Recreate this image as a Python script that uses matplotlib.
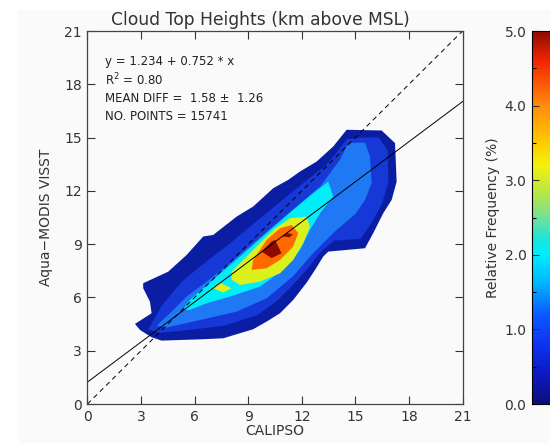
import matplotlib
matplotlib.use("Agg")
import matplotlib.pyplot as plt
import numpy as np
from matplotlib.colors import LinearSegmentedColormap, Normalize
from matplotlib.patches import Rectangle
import matplotlib.colorbar as mcolorbar

# fit statistics printed on the chart
intercept = 1.234
slope = 0.752
r2 = 0.80
mean_diff = 1.58
diff_sd = 1.26
n_points = 15741

ticks = [0, 3, 6, 9, 12, 15, 18, 21]
cbar_ticks = [0.0, 1.0, 2.0, 3.0, 4.0, 5.0]

# contour outlines (CALIPSO km, VISST km), outermost first
lvl1 = [(2.66, 4.51), (2.94, 4.17), (3.59, 3.76), (4.15, 3.57), (6.30, 3.64), (7.60, 3.70),
        (9.28, 4.21), (10.03, 4.64), (10.78, 5.11), (11.52, 5.86), (12.27, 6.83), (12.74, 7.55),
        (13.20, 8.30), (13.48, 8.58), (15.54, 8.77), (16.00, 9.62), (16.56, 10.74), (17.03, 11.49),
        (17.31, 12.52), (17.22, 14.69), (16.47, 15.40), (14.51, 15.44), (13.76, 14.50),
        (12.83, 13.65), (11.90, 13.09), (11.24, 12.62), (10.40, 12.15), (9.28, 11.12),
        (8.35, 10.55), (7.04, 9.52), (6.48, 9.43), (5.55, 8.39), (4.52, 7.45), (3.12, 6.80),
        (3.12, 6.52), (3.50, 5.76), (3.59, 5.11)]
lvl2 = [(3.4, 4.2), (4.2, 5.6), (5.3, 6.9), (6.5, 7.9), (7.8, 8.9), (9.0, 9.9), (10.2, 10.9),
        (11.3, 11.8), (12.4, 12.7), (13.3, 13.4), (13.9, 14.1), (14.5, 14.9), (15.2, 15.0),
        (16.3, 15.0), (16.8, 14.3), (16.85, 12.5), (16.5, 11.3), (15.9, 10.2), (15.3, 9.3),
        (13.8, 9.2), (13.0, 8.5), (12.3, 7.6), (11.5, 6.7), (10.6, 5.8), (9.5, 5.0),
        (7.6, 4.4), (5.5, 4.15), (4.0, 4.0)]
lvl3 = [(3.87, 4.4), (4.43, 4.3), (5.74, 4.6), (8.35, 5.2), (10.03, 5.95), (11.52, 7.2),
        (12.64, 8.5), (13.95, 9.8), (15.0, 10.7), (15.54, 11.49), (15.91, 12.43),
        (15.82, 13.93), (15.54, 14.72), (14.7, 14.7), (14.5, 14.5), (14.14, 13.75),
        (13.02, 12.24), (11.71, 11.12), (10.59, 10.18), (9.28, 9.05), (7.98, 7.93),
        (6.67, 6.89), (5.55, 6.05), (4.62, 5.11)]
lvl4 = [(5.36, 5.30), (5.74, 5.86), (7.23, 7.17), (8.54, 8.30), (10.03, 9.62), (11.52, 10.93),
        (12.64, 11.87), (13.48, 12.52), (13.76, 11.68), (13.02, 10.74), (12.46, 9.80),
        (11.90, 8.68), (10.96, 7.55), (9.66, 6.61), (7.98, 6.05), (6.67, 5.67), (5.74, 5.30)]
lvl5 = [(8.07, 7.45), (9.28, 8.68), (10.40, 9.80), (11.34, 10.46), (12.27, 10.55),
        (12.46, 9.99), (12.08, 9.05), (11.52, 8.11), (10.78, 7.36), (9.66, 6.89),
        (8.54, 6.70), (8.07, 7.0)]
lvl5b = [(7.04, 6.52), (7.42, 6.83), (8.07, 6.52), (7.60, 6.27)]
lvl6 = [(9.19, 7.55), (9.28, 8.11), (10.03, 9.24), (10.78, 9.90), (11.43, 10.08),
        (11.80, 9.62), (11.52, 8.86), (10.78, 8.11), (10.03, 7.64)]
lvl7 = [(9.75, 8.58), (10.31, 9.15), (10.5, 9.24), (10.87, 8.49), (10.31, 8.21)]
lvl7b = [(10.9, 9.45), (11.2, 9.62), (11.5, 9.55), (11.3, 9.38)]

fills = [(lvl1, "#0b1ea3"), (lvl2, "#1538d6"), (lvl3, "#1f78f4"), (lvl4, "#00eef8"),
         (lvl5, "#dcf01e"), (lvl5b, "#dcf01e"), (lvl6, "#ff6a00"), (lvl7, "#8c0a00"),
         (lvl7b, "#8c0a00")]

cmap = LinearSegmentedColormap.from_list("relfreq", [
    (0.00, (0.05, 0.05, 0.50)), (0.08, (0.05, 0.10, 0.75)), (0.16, (0.05, 0.20, 0.95)),
    (0.24, (0.05, 0.35, 1.00)), (0.32, (0.00, 0.70, 1.00)), (0.40, (0.00, 0.93, 1.00)),
    (0.44, (0.10, 0.90, 0.85)), (0.50, (0.45, 0.88, 0.60)), (0.56, (0.70, 0.90, 0.30)),
    (0.64, (0.95, 0.95, 0.05)), (0.70, (1.00, 0.80, 0.00)), (0.80, (1.00, 0.55, 0.05)),
    (0.92, (0.95, 0.15, 0.00)), (1.00, (0.55, 0.05, 0.00))])

plt.rcParams['font.family'] = ['DejaVu Sans']
fig = plt.figure(figsize=(5.5, 4.43), dpi=100)
fig.patch.set_facecolor("white")
fig.patches.append(Rectangle((18 / 550, 0), 1, 1 - 10 / 443, transform=fig.transFigure,
                             facecolor="#fafafa", edgecolor="none", zorder=-10))

ax = fig.add_axes([0.159, 0.088, 0.682, 0.842])
ax.set_facecolor("#fafafa")
for poly, col in fills:
    px, py = zip(*poly)
    ax.fill(px, py, color=col, lw=0)

ax.axline((0, intercept), slope=slope, color="black", lw=0.7)
ax.axline((0, 0), slope=1, color="black", lw=0.7, dashes=(5, 4))

ax.set_xlim(0, 21)
ax.set_ylim(0, 21)
ax.set_xticks(ticks)
ax.set_yticks(ticks)
ax.tick_params(direction="in", length=6, width=0.8, top=True, right=True,
               labelsize=10, pad=4, colors="#333333")
for s in ax.spines.values():
    s.set_linewidth(0.9)
    s.set_color("#444444")
ax.set_title("Cloud Top Heights (km above MSL)", fontsize=12.3, pad=4, x=0.46,
             color="#333333")
ax.set_xlabel("CALIPSO", fontsize=10, labelpad=0, color="#333333")
ax.set_ylabel("Aqua\u2212MODIS VISST", fontsize=10, labelpad=8, color="#333333")

stats = ["y = %.3f + %.3f * x" % (intercept, slope),
         "R$^2$ = %.2f" % r2,
         "MEAN DIFF =  %.2f \u00b1  %.2f" % (mean_diff, diff_sd),
         "NO. POINTS = %d" % n_points]
for i, t in enumerate(stats):
    ax.text(0.047, 0.917 - 0.049 * i, t, transform=ax.transAxes, fontsize=8.5,
            va="center", ha="left", color="#222222")

cax = fig.add_axes([532 / 550, 0.088, 0.06, 0.842])
cb = mcolorbar.ColorbarBase(cax, cmap=cmap, norm=Normalize(0, 5), orientation="vertical")
cb.set_ticks(cbar_ticks)
cb.ax.yaxis.set_ticks_position("left")
cb.ax.yaxis.set_label_position("left")
cb.ax.set_yticklabels(["%.1f" % v for v in cbar_ticks])
cb.ax.set_yticks(np.arange(0.5, 5, 1.0), minor=True)
cb.ax.tick_params(which="major", direction="in", length=5, width=0.8, labelsize=10,
                  pad=4, colors="#333333", left=True, right=True)
cb.ax.tick_params(which="minor", direction="in", length=3, width=0.8, left=True, right=True)
cb.outline.set_linewidth(0.8)
cb.set_label("Relative Frequency (%)", fontsize=10, labelpad=3, color="#333333")

fig.savefig("out.png", dpi=100, facecolor=fig.get_facecolor())
